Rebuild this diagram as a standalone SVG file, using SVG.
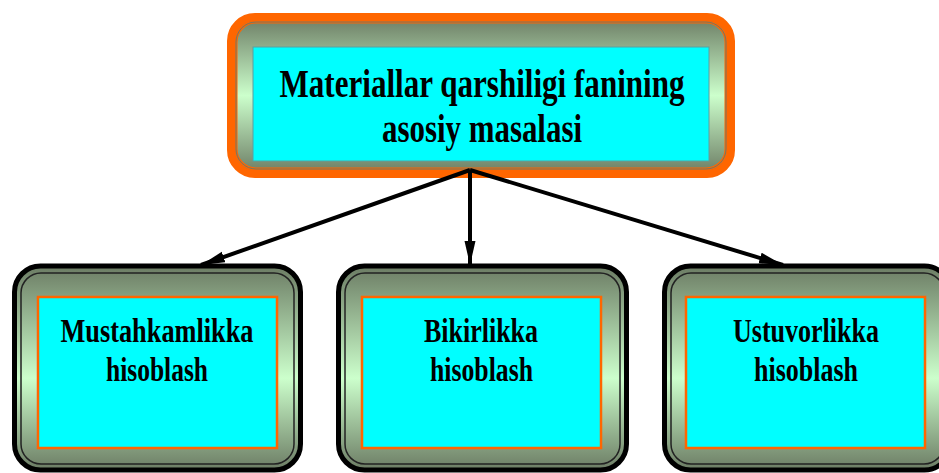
<svg xmlns="http://www.w3.org/2000/svg" width="939" height="473" viewBox="0 0 939 473">
<style>
.txt{font-family:"Liberation Serif","Times New Roman",serif;font-weight:bold;fill:#000;text-anchor:middle}
.t1{font-size:39px}
.t2{font-size:33px}
.cyan{fill:#00ffff}
.edge{fill:none;stroke:#000;stroke-width:4}
</style>
<defs>
<linearGradient id="g" x1="0" y1="0" x2="0" y2="1">
<stop offset="0" stop-color="#6c7c64"/>
<stop offset="0.5" stop-color="#ccffcc"/>
<stop offset="1" stop-color="#6c7c64"/>
</linearGradient>
<linearGradient id="g2" x1="0" y1="0" x2="0" y2="1">
<stop offset="0" stop-color="#6c7c64"/>
<stop offset="0.55" stop-color="#ccffcc"/>
<stop offset="1" stop-color="#6c7c64"/>
</linearGradient>
<marker id="arr" markerUnits="userSpaceOnUse" markerWidth="26" markerHeight="12" refX="24" refY="5.5" orient="auto">
<path d="M0,0 L24,5.5 L0,11 z" fill="#000"/>
</marker>
</defs>

<g id="top">
<rect x="231" y="17" width="500" height="157" rx="24" fill="url(#g)" stroke="#ff6600" stroke-width="8"/>
<rect x="236" y="22" width="490" height="147" rx="20" fill="none" stroke="#ff6600" stroke-width="3"/>
<rect x="236" y="22" width="490" height="147" rx="20" fill="none" stroke="#6e7868" stroke-width="1"/>
<rect class="cyan" x="253" y="47" width="456" height="114" stroke="#5aa0a0" stroke-width="1"/>
<text class="txt t1" x="482" y="97" textLength="405" lengthAdjust="spacingAndGlyphs">Materiallar qarshiligi fanining</text>
<text class="txt t1" x="482" y="142" textLength="200" lengthAdjust="spacingAndGlyphs">asosiy masalasi</text>
</g>

<g id="box1">
<rect x="14.5" y="266" width="286" height="204" rx="26" fill="url(#g2)" stroke="#000" stroke-width="5"/>
<rect x="21" y="273" width="273" height="191" rx="20" fill="none" stroke="#222" stroke-width="1.5"/>
<rect class="cyan" x="38" y="297" width="239" height="151" stroke="#ff6600" stroke-width="2.5"/>
<text class="txt t2" x="157" y="342" textLength="193" lengthAdjust="spacingAndGlyphs">Mustahkamlikka</text>
<text class="txt t2" x="157" y="381" textLength="102" lengthAdjust="spacingAndGlyphs">hisoblash</text>
</g>

<g id="box2">
<rect x="338.5" y="266" width="288" height="204" rx="26" fill="url(#g2)" stroke="#000" stroke-width="5"/>
<rect x="345" y="273" width="275" height="191" rx="20" fill="none" stroke="#222" stroke-width="1.5"/>
<rect class="cyan" x="362" y="297" width="239" height="151" stroke="#ff6600" stroke-width="2.5"/>
<text class="txt t2" x="481" y="342" textLength="114" lengthAdjust="spacingAndGlyphs">Bikirlikka</text>
<text class="txt t2" x="481.5" y="381" textLength="103" lengthAdjust="spacingAndGlyphs">hisoblash</text>
</g>

<g id="box3">
<rect x="664.5" y="266" width="286" height="204" rx="26" fill="url(#g2)" stroke="#000" stroke-width="5"/>
<rect x="671" y="273" width="273" height="191" rx="20" fill="none" stroke="#222" stroke-width="1.5"/>
<rect class="cyan" x="686" y="297" width="239" height="151" stroke="#ff6600" stroke-width="2.5"/>
<text class="txt t2" x="806" y="342" textLength="146" lengthAdjust="spacingAndGlyphs">Ustuvorlikka</text>
<text class="txt t2" x="806" y="381" textLength="104" lengthAdjust="spacingAndGlyphs">hisoblash</text>
</g>

<g id="connectors">
<line class="edge" x1="470" y1="170" x2="201" y2="265" marker-end="url(#arr)"/>
<line class="edge" x1="470" y1="170" x2="470" y2="265" marker-end="url(#arr)"/>
<line class="edge" x1="470" y1="170" x2="783" y2="265" marker-end="url(#arr)"/>
</g>
</svg>
